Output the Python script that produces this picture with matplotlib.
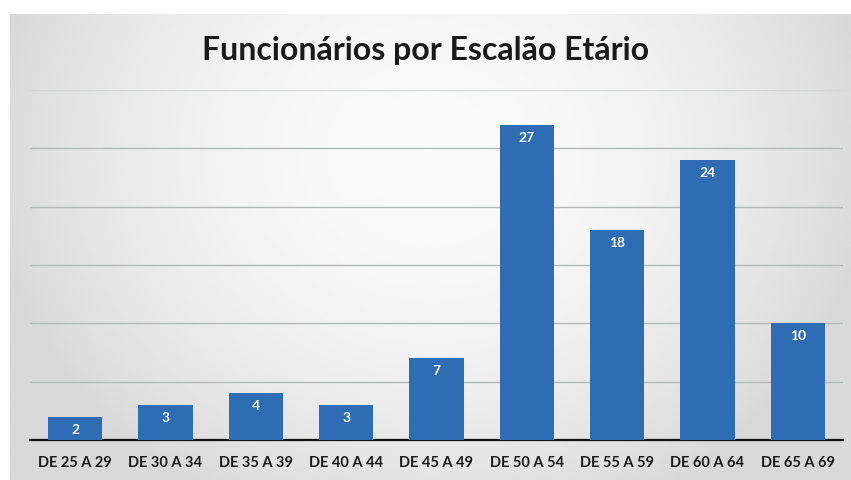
import numpy as np
import matplotlib.pyplot as plt

# Dados do gráfico
categorias = ['DE 25 A 29', 'DE 30 A 34', 'DE 35 A 39', 'DE 40 A 44', 'DE 45 A 49',
              'DE 50 A 54', 'DE 55 A 59', 'DE 60 A 64', 'DE 65 A 69']
funcionarios = [2, 3, 4, 3, 7, 27, 18, 24, 10]
titulo = u'Funcionários por Escalão Etário'

plt.rcParams['font.family'] = ['Lato', 'DejaVu Sans']

fig = plt.figure(figsize=(8.51, 4.8), dpi=100)
fig.patch.set_facecolor('white')

# Background: gray frame with a lighter centre, like the scanned page
bg = fig.add_axes([0.012, 0.0, 0.988, 0.97])
xx = np.linspace(-1, 1, 300)
yy = np.linspace(-1, 1, 200)
X, Y = np.meshgrid(xx, yy)
shade = 0.85 + 0.13 * np.clip(1 - (X ** 2) * 0.9 - (Y + 0.4) ** 2 * 0.35, 0, 1)
bg.imshow(shade, cmap='gray', vmin=0, vmax=1, aspect='auto',
          extent=[0, 1, 0, 1], interpolation='bilinear')
bg.set_axis_off()

ax = fig.add_axes([30 / 851, 40 / 480, 813 / 851, 350 / 480])
ax.patch.set_alpha(0)
x = np.arange(len(categorias))
bars = ax.bar(x, funcionarios, width=0.6, color='#2e6cb3', zorder=3)

for b, v in zip(bars, funcionarios):
    ax.text(b.get_x() + b.get_width() / 2, v - 0.6, str(v), ha='center', va='top',
            color='white', fontsize=10, fontweight='bold', zorder=4)

ax.set_xlim(-0.5, len(categorias) - 0.5)
ax.set_ylim(0, 30)
ax.set_yticks(np.arange(5, 31, 5))
ax.yaxis.grid(True, color='#b4b8b8', linewidth=1.0, zorder=0)
ax.get_ygridlines()[-1].set_color('#d4d8d8')
ax.tick_params(axis='y', left=False, labelleft=False)
ax.tick_params(axis='x', bottom=False, pad=8)
ax.set_xticks(x)
ax.set_xticklabels(categorias, fontsize=10.5, fontweight='bold', color='#1a1a1a')
for side in ['top', 'right', 'left']:
    ax.spines[side].set_visible(False)
ax.spines['bottom'].set_color('#111111')
ax.spines['bottom'].set_linewidth(1.6)

fig.text(0.5, 0.895, titulo, ha='center', va='center', fontsize=23,
         fontweight='bold', color='#1a1a1a')

plt.savefig('out.png', dpi=100)
